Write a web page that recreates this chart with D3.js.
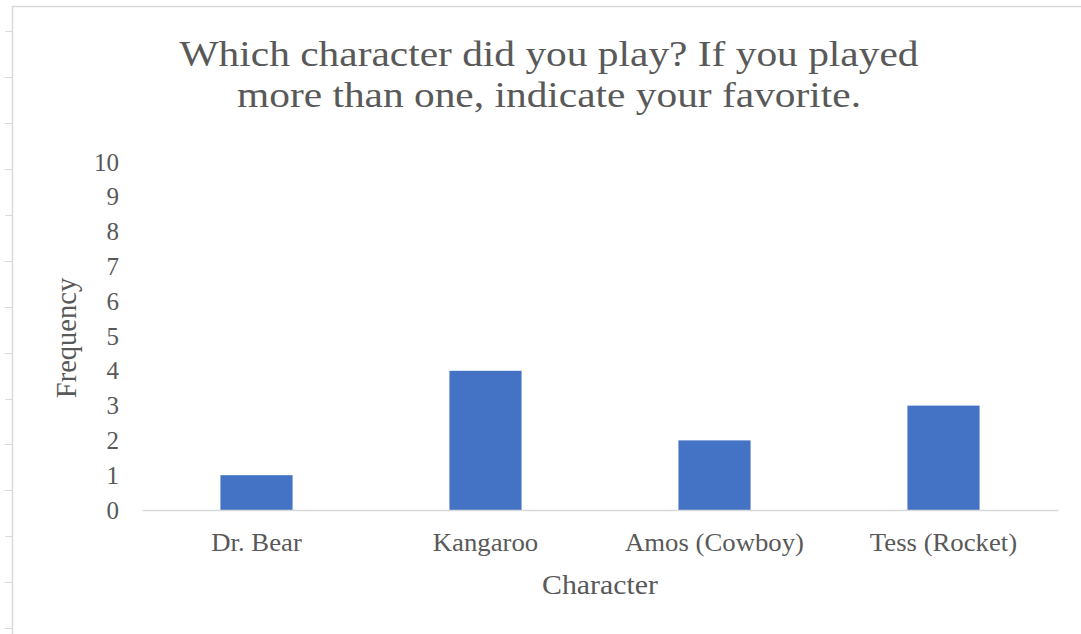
<!DOCTYPE html>
<html><head><meta charset="utf-8">
<script src="https://cdn.jsdelivr.net/npm/d3@7"></script>
<style>html,body{margin:0;padding:0;background:#fff;}svg{display:block;}</style>
</head><body>
<script>
const categories = ["Dr. Bear", "Kangaroo", "Amos (Cowboy)", "Tess (Rocket)"];
const frequency = [1, 4, 2, 3];
const yTicks = [0,1,2,3,4,5,6,7,8,9,10];
const titleLines = ["Which character did you play? If you played", "more than one, indicate your favorite."];
const frameTicks = [31,77,123,169,215,261,307,353,399,444,490,536,582,628];

const W = 1081, H = 634;
const svg = d3.select("body").append("svg").attr("width", W).attr("height", H);
const font = "'Liberation Serif','Times New Roman',serif";
const txt = "#595959";

// sheet frame
const g0 = svg.append("g");
g0.append("line").attr("x1",12.5).attr("x2",12.5).attr("y1",6).attr("y2",H).attr("stroke","#d9d9d9").attr("stroke-width",1.5);
g0.append("line").attr("x1",12).attr("x2",W).attr("y1",6.5).attr("y2",6.5).attr("stroke","#d9d9d9").attr("stroke-width",1.5);
g0.selectAll(".ft").data(frameTicks).join("line").attr("x1",5).attr("x2",12).attr("y1",d=>d+0.5).attr("y2",d=>d+0.5).attr("stroke","#d9d9d9");

const x = d3.scaleBand().domain(categories).range([142, 1058]).padding(0);
const y = d3.scaleLinear().domain([0, 10]).range([510, 162]);

// title
svg.append("text").attr("transform","translate(549,0) scale(1.15,1)").attr("text-anchor","middle")
  .attr("font-family", font).attr("font-size", 36).attr("fill", txt)
  .selectAll("tspan").data(titleLines).join("tspan").attr("x",0).attr("y",(d,i)=>66 + i*41).text(d=>d);

// bars
const bw = x.bandwidth()*0.315;
svg.selectAll(".bar").data(frequency).join("rect")
  .attr("x",(d,i)=>x(categories[i]) + x.bandwidth()/2 - bw/2)
  .attr("width", bw)
  .attr("y", d=>y(d)).attr("height", d=>y(0)-y(d))
  .attr("fill", "#4472C4");

// x axis
const xa = svg.append("g").attr("transform","translate(0,510)")
  .call(d3.axisBottom(x).tickSize(0).tickPadding(0));
xa.select(".domain").attr("stroke","#d9d9d9").attr("stroke-width",1.5);
xa.selectAll("text").attr("font-family",font).attr("font-size",25).attr("fill",txt)
  .attr("dy",null).attr("y",41).attr("transform","scale(1.07,1)");

// y axis
const ya = svg.append("g").attr("transform","translate(119,0)")
  .call(d3.axisLeft(y).tickValues(yTicks).tickSize(0).tickPadding(0).tickFormat(d3.format("d")));
ya.select(".domain").remove();
ya.selectAll("text").attr("font-family",font).attr("font-size",25).attr("fill",txt).attr("dy","0.32em");

// axis titles
svg.append("text").attr("transform","translate(600,594) scale(1.066,1)").attr("text-anchor","middle")
  .attr("font-family",font).attr("font-size",28).attr("fill",txt).text("Character");
svg.append("text").attr("transform","translate(76,338) rotate(-90)").attr("text-anchor","middle")
  .attr("font-family",font).attr("font-size",28.5).attr("fill",txt).text("Frequency");
</script>
</body></html>
